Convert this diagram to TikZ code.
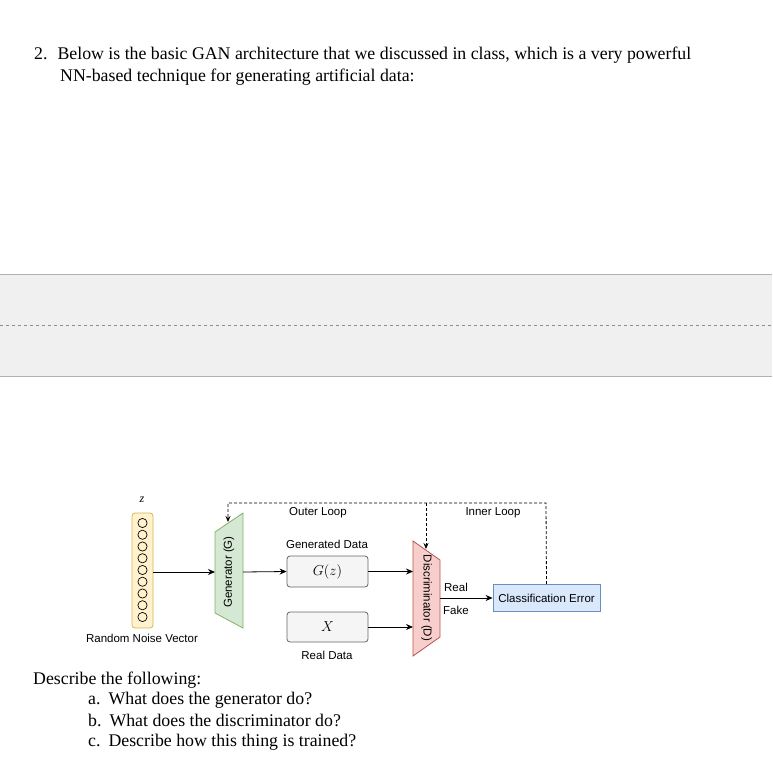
\documentclass[tikz,border=0pt]{standalone}
\usepackage{fontspec}
\setmainfont{Liberation Serif}
\newfontfamily\arial{Liberation Sans}
\usetikzlibrary{arrows.meta}
\definecolor{gfill}{HTML}{D5E8D4}\definecolor{gline}{HTML}{82B366}
\definecolor{rfill}{HTML}{F8CECC}\definecolor{rline}{HTML}{B85450}
\definecolor{bfill}{HTML}{DAE8FC}\definecolor{bline}{HTML}{6C8EBF}
\definecolor{yfill}{HTML}{FFF2CC}\definecolor{yline}{HTML}{D6B656}
\begin{document}
\begin{tikzpicture}[x=1pt,y=-1pt,
  body/.style={font=\fontsize{17.8}{20}\selectfont,anchor=west,inner sep=0},
  lbl/.style={font=\arial\fontsize{11.5}{13}\selectfont,inner sep=0},
  arr/.style={-{Stealth[length=7pt,width=6pt]},line width=0.8pt},
  loopline/.style={densely dashed,line width=0.8pt},
  box/.style={draw=#1,line width=0.8pt,rounded corners=3pt}]
\useasboundingbox (0,0) rectangle (772,776);
\node[body] (t1) at (34,55) {2.\hspace{10pt}Below is the basic GAN architecture that we discussed in class, which is a very powerful};
\node[body] (t2) at (60,77) {NN-based technique for generating artificial data:};
\fill[black!6] (0,274) rectangle (772,376);
\draw[black!30] (0,274) -- (772,274) (0,376) -- (772,376);
\draw[black!45,dashed] (0,325) -- (772,325);
% noise vector
\node[lbl,font=\itshape\fontsize{12}{13}\selectfont] (z) at (142,500) {z};
\draw[box=yline,fill=yfill,rounded corners=3pt] (132,513) rectangle (153,628);
\foreach \i in {0,...,8} \draw[line width=0.7pt] (142.5,523+\i*11.75) circle (4.6);
\coordinate (nv) at (153,572);
\node[lbl] (rnv) at (142,638) {Random Noise Vector};
% generator
\draw[draw=gline,fill=gfill,line width=0.8pt] (215,532) -- (243,513) -- (243,628) -- (215,613) -- cycle;
\node[lbl,rotate=90] (gen) at (229,572) {Generator (G)};
\coordinate (gl) at (215,572);
\coordinate (gr) at (243,572);
\draw[arr] (nv) -- (gl);
% boxes
\node[box=black!60,fill=black!4,minimum width=81pt,minimum height=31pt,inner sep=0,font=\fontsize{15}{16}\selectfont] (gz) at (327.5,571.5) {$G(z)$};
\node[box=black!60,fill=black!4,minimum width=81pt,minimum height=30pt,inner sep=0,font=\fontsize{15}{16}\selectfont] (x) at (327.5,627) {$X$};
\node[lbl] (gd) at (327,544) {Generated Data};
\node[lbl] (rd) at (327,655) {Real Data};
\draw[arr] (gr) -- (gz.west);
% discriminator
\draw[draw=rline,fill=rfill,line width=0.8pt] (413,541) -- (440,560) -- (440,637) -- (413,656) -- cycle;
\node[lbl,rotate=-90] (disc) at (426.5,598) {Discriminator (D)};
\draw[arr] (gz.east) -- (413,571.5);
\draw[arr] (x.east) -- (413,627);
\node[box=bline,fill=bfill,rounded corners=0,minimum width=107pt,minimum height=27pt,inner sep=0,font=\arial\fontsize{11.5}{13}\selectfont] (ce) at (546.5,598) {Classification Error};
\draw[arr] (440,598) -- (ce.west);
\node[lbl] (real) at (456,587) {Real};
\node[lbl] (fake) at (456,610) {Fake};
% loops
\draw[loopline,-{Stealth[length=6pt,width=5pt]}] (ce.north) -- (546,503) -- (228,503) -- (228,522);
\draw[loopline,-{Stealth[length=6pt,width=5pt]}] (426,503) -- (426,549);
\node[lbl] (ol) at (318,513) {Outer Loop};
\node[lbl] (il) at (493,513) {Inner Loop};
% questions
\node[body] (d) at (33,680) {Describe the following:};
\node[body] (qa) at (88,700) {a.\hspace{8pt}What does the generator do?};
\node[body] (qb) at (88,720) {b.\hspace{8pt}What does the discriminator do?};
\node[body] (qc) at (88,742) {c.\hspace{8pt}Describe how this thing is trained?};
\end{tikzpicture}
\end{document}
